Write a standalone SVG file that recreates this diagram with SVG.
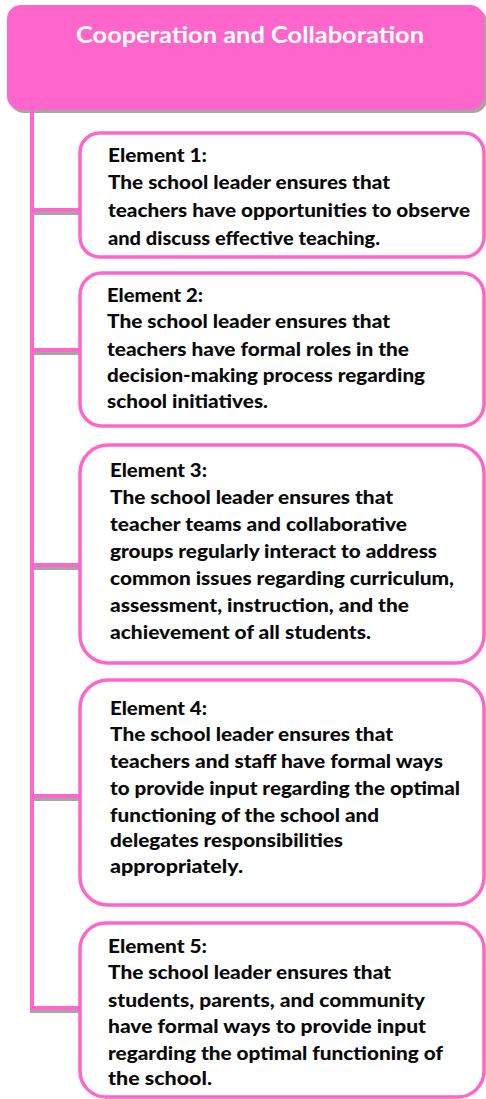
<svg xmlns="http://www.w3.org/2000/svg" width="486" height="1099" viewBox="0 0 486 1099">
<style>
.box{fill:#fff;stroke:#FF66CC;stroke-width:3.5}
.conn{fill:none;stroke:#FF66CC;stroke-width:4}
.shad{fill:none;stroke:#A6A6A6;stroke-width:3}
.t{font-family:Lato,"Liberation Sans",sans-serif;font-weight:900;font-size:19px;fill:#0a0a0a}
.h{font-family:Lato,"Liberation Sans",sans-serif;font-weight:bold;font-size:22px;fill:#fff}
</style>
<rect width="486" height="1099" fill="#fff"/>
<g id="header">
<rect x="10" y="8" width="477" height="105" rx="14" fill="#A6A6A6"/>
<rect x="7" y="5" width="477" height="105" rx="14" fill="#FF66CC"/>
<text class="h" x="76" y="43" textLength="348" lengthAdjust="spacingAndGlyphs">Cooperation and Collaboration</text>
</g>
<g id="connectors">
<path class="shad" d="M30 1011.5H80M34 213.5H80M34 353.5H80M34 568.5H80M34 799.5H80"/>
<path class="conn" d="M32 110V1008H80M32 210H80M32 350H80M32 565H80M32 796H80"/>
</g>
<g id="element1">
<rect class="box" x="80" y="133" width="404" height="124" rx="20"/>
<text class="t" x="108" y="162" textLength="99" lengthAdjust="spacingAndGlyphs">Element 1:</text>
<text class="t" x="108" y="189" textLength="282" lengthAdjust="spacingAndGlyphs">The school leader ensures that</text>
<text class="t" x="108" y="217" textLength="362" lengthAdjust="spacingAndGlyphs">teachers have opportunities to observe</text>
<text class="t" x="108" y="245" textLength="272" lengthAdjust="spacingAndGlyphs">and discuss effective teaching.</text>
</g>
<g id="element2">
<rect class="box" x="80" y="273" width="404" height="153" rx="22"/>
<text class="t" x="107" y="302" textLength="96" lengthAdjust="spacingAndGlyphs">Element 2:</text>
<text class="t" x="107" y="328" textLength="283" lengthAdjust="spacingAndGlyphs">The school leader ensures that</text>
<text class="t" x="107" y="356" textLength="302" lengthAdjust="spacingAndGlyphs">teachers have formal roles in the</text>
<text class="t" x="107" y="382" textLength="318" lengthAdjust="spacingAndGlyphs">decision-making process regarding</text>
<text class="t" x="107" y="408" textLength="161" lengthAdjust="spacingAndGlyphs">school initiatives.</text>
</g>
<g id="element3">
<rect class="box" x="80" y="445" width="404" height="218" rx="28"/>
<text class="t" x="110" y="477" textLength="97" lengthAdjust="spacingAndGlyphs">Element 3:</text>
<text class="t" x="110" y="504" textLength="283" lengthAdjust="spacingAndGlyphs">The school leader ensures that</text>
<text class="t" x="110" y="531" textLength="297" lengthAdjust="spacingAndGlyphs">teacher teams and collaborative</text>
<text class="t" x="110" y="558" textLength="327" lengthAdjust="spacingAndGlyphs">groups regularly interact to address</text>
<text class="t" x="110" y="585" textLength="344" lengthAdjust="spacingAndGlyphs">common issues regarding curriculum,</text>
<text class="t" x="110" y="612" textLength="299" lengthAdjust="spacingAndGlyphs">assessment, instruction, and the</text>
<text class="t" x="110" y="639" textLength="261" lengthAdjust="spacingAndGlyphs">achievement of all students.</text>
</g>
<g id="element4">
<rect class="box" x="80" y="680" width="404" height="225" rx="28"/>
<text class="t" x="110" y="715" textLength="97" lengthAdjust="spacingAndGlyphs">Element 4:</text>
<text class="t" x="110" y="741" textLength="283" lengthAdjust="spacingAndGlyphs">The school leader ensures that</text>
<text class="t" x="110" y="768" textLength="333" lengthAdjust="spacingAndGlyphs">teachers and staff have formal ways</text>
<text class="t" x="110" y="795" textLength="350" lengthAdjust="spacingAndGlyphs">to provide input regarding the optimal</text>
<text class="t" x="110" y="822" textLength="269" lengthAdjust="spacingAndGlyphs">functioning of the school and</text>
<text class="t" x="110" y="847" textLength="233" lengthAdjust="spacingAndGlyphs">delegates responsibilities</text>
<text class="t" x="110" y="873" textLength="133" lengthAdjust="spacingAndGlyphs">appropriately.</text>
</g>
<g id="element5">
<rect class="box" x="80" y="923" width="404" height="174" rx="26"/>
<text class="t" x="108" y="953" textLength="99" lengthAdjust="spacingAndGlyphs">Element 5:</text>
<text class="t" x="108" y="979" textLength="283" lengthAdjust="spacingAndGlyphs">The school leader ensures that</text>
<text class="t" x="108" y="1007" textLength="317" lengthAdjust="spacingAndGlyphs">students, parents, and community</text>
<text class="t" x="108" y="1033" textLength="318" lengthAdjust="spacingAndGlyphs">have formal ways to provide input</text>
<text class="t" x="108" y="1060" textLength="335" lengthAdjust="spacingAndGlyphs">regarding the optimal functioning of</text>
<text class="t" x="108" y="1085" textLength="104" lengthAdjust="spacingAndGlyphs">the school.</text>
</g>
</svg>
